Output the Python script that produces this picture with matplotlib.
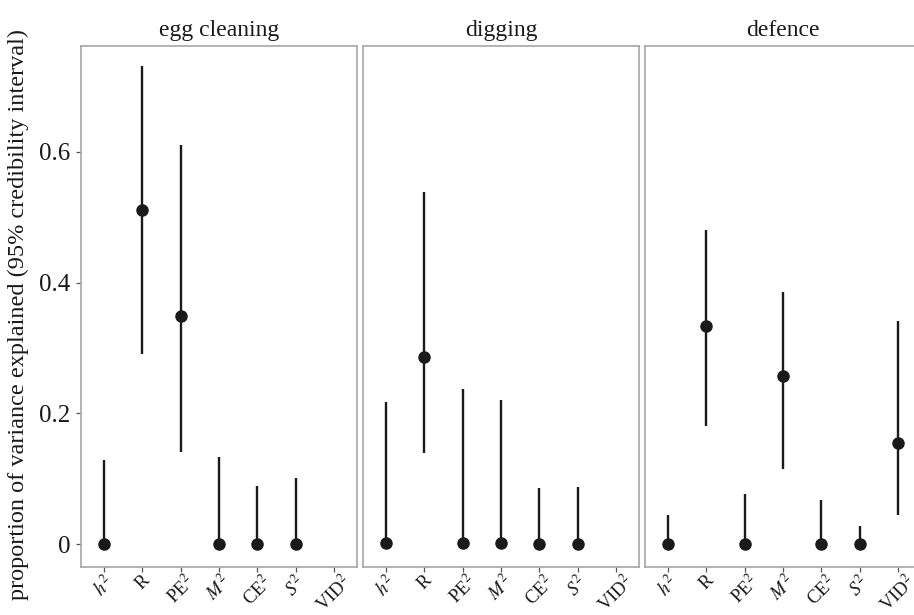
"""
variance components per behaviour: posterior mode + 95% credibility interval,
three facets (egg cleaning / digging / defence) in the ggplot theme_bw look.
"""

import matplotlib
matplotlib.use("Agg")
import matplotlib.pyplot as plt
import numpy as np

plt.rcParams["font.family"] = ["Liberation Serif", "DejaVu Serif"]
plt.rcParams["mathtext.fontset"] = "stix"

COMPONENTS = [r"$h^2$", "R", r"PE$^2$", r"$M^2$", r"CE$^2$", r"$S^2$", r"VID$^2$"]
PANELS = ["egg cleaning", "digging", "defence"]

# estimate, lower and upper bound of the interval (nan = not estimated)
egg_est = [0.0, 0.511, 0.349, 0.0, 0.0, 0.0, np.nan]
egg_lo  = [0.0, 0.291, 0.141, 0.0, 0.0, 0.0, np.nan]
egg_hi  = [0.128, 0.732, 0.611, 0.133, 0.089, 0.101, np.nan]

dig_est = [0.002, 0.286, 0.002, 0.002, 0.0, 0.0, np.nan]
dig_lo  = [0.002, 0.140, 0.002, 0.002, 0.0, 0.0, np.nan]
dig_hi  = [0.217, 0.539, 0.238, 0.220, 0.086, 0.087, np.nan]

def_est = [0.0, 0.334, 0.0, 0.257, 0.0, 0.0, 0.155]
def_lo  = [0.0, 0.181, 0.0, 0.115, 0.0, 0.0, 0.044]
def_hi  = [0.045, 0.481, 0.077, 0.385, 0.068, 0.027, 0.342]

DATA = [(egg_est, egg_lo, egg_hi), (dig_est, dig_lo, dig_hi), (def_est, def_lo, def_hi)]

W, H = 914, 615
fig = plt.figure(figsize=(W / 100, H / 100), dpi=100)

# panel geometry in pixels (third panel runs off the right edge, as in the source)
PX_LEFT, PX_W, PX_GAP = 81, 276, 6
PX_TOP, PX_BOT = 46, 567
FRAME = "#a6a6a6"
INK = "#1a1a1a"

x = np.arange(len(COMPONENTS))
for k, (name, (est, lo, hi)) in enumerate(zip(PANELS, DATA)):
    left = PX_LEFT + k * (PX_W + PX_GAP)
    ax = fig.add_axes([left / W, 1 - PX_BOT / H, PX_W / W, (PX_BOT - PX_TOP) / H])
    est, lo, hi = map(np.asarray, (est, lo, hi))
    ax.vlines(x, lo, hi, color=INK, linewidth=1.7, zorder=2)
    ax.plot(x, est, "o", color=INK, markersize=8, zorder=3)

    ax.set_xlim(-0.6, len(COMPONENTS) - 0.4)
    ax.set_ylim(-0.035, 0.762)
    ax.set_xticks(x)
    ax.set_xticklabels(COMPONENTS, rotation=45, ha="center", va="top",
                       fontsize=13.5, color=INK)
    ax.set_yticks([0, 0.2, 0.4, 0.6])
    if k == 0:
        ax.set_yticklabels(["0", "0.2", "0.4", "0.6"], fontsize=18, color=INK)
    else:
        ax.tick_params(axis="y", left=False, labelleft=False)
    ax.tick_params(length=3.5, width=0.9, color="#555555", pad=4)
    ax.tick_params(axis="x", pad=0)
    for sp in ax.spines.values():
        sp.set_color(FRAME)
        sp.set_linewidth(1.2)
    ax.set_title(name, fontsize=17, color=INK, pad=7)

fig.text(18 / W, 1 - 314 / H, "proportion of variance explained (95% credibility interval)",
         rotation=90, ha="center", va="center", fontsize=17.5, color=INK)

fig.savefig("out.png", dpi=100)
